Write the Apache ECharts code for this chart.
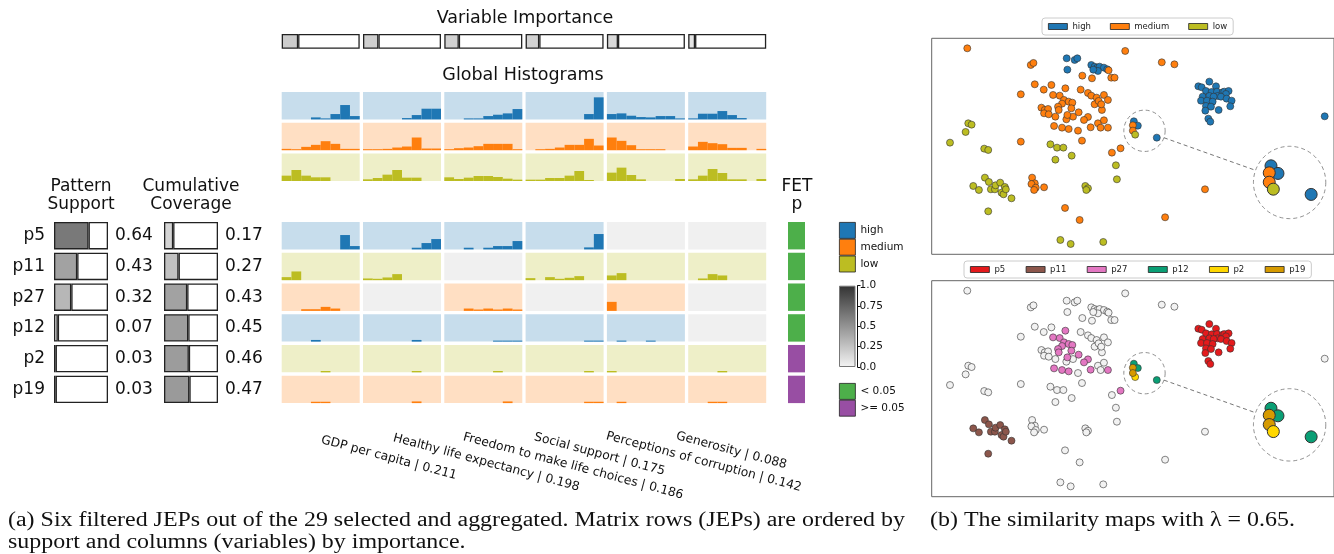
<!DOCTYPE html>
<html><head><meta charset="utf-8">
<script src="https://cdn.jsdelivr.net/npm/echarts@6/dist/echarts.min.js"></script>
<style>html,body{margin:0;padding:0;background:#fff}#c{width:1334px;height:554px}</style>
</head><body><div id="c"></div><script>
// ---------------- data ----------------
const patterns = ['p5','p11','p27','p12','p2','p19'];
const patternClass = ['high','low','medium','high','low','medium'];
const support = [0.64,0.43,0.32,0.07,0.03,0.03];
const coverage = [0.17,0.27,0.43,0.45,0.46,0.47];
const fetSignificant = [true,true,true,true,false,false]; // p < 0.05
const variables = ['GDP per capita','Healthy life expectancy','Freedom to make life choices','Social support','Perceptions of corruption','Generosity'];
const importance = [0.211,0.198,0.186,0.175,0.142,0.088];
const classes = ['high','medium','low'];
const bins = ['b1','b2','b3','b4','b5','b6','b7','b8'];
const colorbarTicks = ['0.0','0.25','0.5','0.75','1.0'];
const fetLabels = ['< 0.05','>= 0.05'];

// global histograms (per class, per variable, 8 bins)
const histHigh = [
  [0,0,0,6,3,16,43,10],
  [0,0,0,0,4,13,32,32],
  [0,0,3,3,10,14,18,31],
  [0,0,0,0,0,0,16,66],
  [16,18,11,7,6,10,10,3],
  [3,17,17,25,13,4,0,0]
];
const histMedium = [
  [4,3,10,16,27,19,4,4],
  [3,3,4,8,11,38,5,5],
  [3,6,8,12,19,19,19,3],
  [0,3,4,8,16,16,34,14],
  [38,28,15,3,3,3,0,0],
  [11,25,21,18,7,7,0,4]
];
const histLow = [
  [16,33,16,11,11,0,0,0],
  [5,9,19,33,10,10,0,0],
  [11,6,10,15,15,12,7,4],
  [4,4,9,9,16,30,3,0],
  [25,40,18,5,0,0,0,6],
  [5,16,36,24,5,5,0,6]
];
// pattern histograms (null = variable not in pattern)
const histP5 = [
  [0,0,0,0,0,0,43,10],
  [0,0,0,0,0,5,19,31],
  [0,0,5,0,5,10,10,25],
  [0,0,0,0,0,0,6,46],
  null, null
];
const histP11 = [
  [9,26,0,0,0,0,0,0],
  [5,4,8,18,0,0,0,0],
  null,
  [6,0,9,4,7,12,0,0],
  [14,21,0,0,0,0,0,0],
  [0,5,18,14,0,0,0,0]
];
const histP27 = [
  [0,0,5,5,12,7,0,0],
  null,
  [0,0,7,4,7,4,7,4],
  null,
  [27,0,0,0,0,0,0,0],
  null
];
const histP12 = [
  [0,0,0,5,0,0,0,0],
  [0,0,0,0,0,5,0,0],
  [0,0,0,0,0,3,3,3],
  [0,0,0,0,0,0,3,3],
  [0,3,0,0,3,0,0,0],
  null
];
const histP2 = [
  [0,0,0,0,4,0,0,0],
  [0,0,0,0,0,4,0,0],
  [0,0,0,0,0,4,0,0],
  [0,0,0,0,0,0,4,0],
  [4,0,0,0,0,0,0,0],
  [0,0,0,4,0,0,0,0]
];
const histP19 = [
  [0,0,0,4,4,0,0,0],
  [0,0,0,0,0,5,0,0],
  [0,0,0,0,0,0,5,0],
  [0,0,0,0,0,0,4,4],
  [0,4,0,0,0,0,0,0],
  [0,0,4,4,0,0,0,0]
];
const patternHists = [histP5, histP11, histP27, histP12, histP2, histP19];

// similarity map points (shared layout coordinates)
const highRight = [[855,215],[822,229],[832,232],[875,229],[845,243],[862,246],[878,245],[895,247],[900,245],[913,243],[905,252],[880,258],[835,260],[855,258],[868,260],[890,260],[907,266],[922,272],[830,272],[848,272],[865,275],[845,288],[860,290],[918,289],[883,300],[843,302],[852,326],[858,335]];
const highOther = [[426,145],[450,150],[458,145],[428,179],[500,165],[510,170],[518,173],[525,170],[538,173],[548,178],[520,183],[506,179],[1202,319]];
const highInset = [[628,334],[640,347],[697,383]];
const mediumP27 = [[422,235],[385,255],[405,257],[418,270],[432,275],[443,278],[412,281],[400,290],[402,300],[440,295],[428,315],[462,307],[490,321],[478,330],[388,348],[412,353],[432,357],[498,352],[550,353],[588,415]];
const mediumOther = [[127,115],[602,123],[712,157],[750,163],[318,165],[326,159],[473,197],[502,205],[552,181],[560,203],[570,203],[330,223],[380,225],[357,239],[288,253],[468,239],[490,249],[500,257],[516,263],[538,255],[550,270],[510,283],[522,273],[532,300],[530,283],[350,293],[360,300],[370,297],[358,310],[372,313],[392,320],[445,320],[425,328],[460,362],[472,392],[288,395],[520,340],[538,331],[528,353],[562,428],[322,503],[330,520],[320,522],[333,533],[358,532],[328,540],[842,538],[421,594],[465,630],[722,622]];
const mediumInset = [[625,346],[625,362]];
const lowCluster = [[180,503],[192,516],[145,528],[162,540],[198,538],[210,538],[212,526],[226,518],[240,531],[230,548],[236,553],[243,538],[260,565],[190,604]];
const lowOther = [[130,340],[140,344],[122,366],[75,398],[178,416],[190,420],[377,403],[397,413],[416,413],[441,437],[392,449],[574,466],[577,508],[482,528],[490,535],[485,540],[407,690],[438,702],[536,696]];
const lowInset = [[632,374]];
const lensSmall = [660,362.5,62];
const lensBig = [1096.5,517.5,108.5];

// ---------------- styles / layout ----------------
const FONT = 'DejaVu Sans';
const CLASS_COLOR = {high:'#1f77b4', medium:'#ff7f0e', low:'#bcbd22'};
const CLASS_BG = {high:'#c7ddec', medium:'#ffdfc3', low:'#eeefc8'};
const EMPTY_BG = '#f0f0f0';
const PAT_COLOR = {p5:'#e41a1c', p11:'#8c564b', p27:'#e377c2', p12:'#0a9f75', p2:'#ffd700', p19:'#d69a00'};
const OTHER_COLOR = '#f2f2f2';
const COL_X0 = 281.7, COL_PITCH = 81.3, CELL_W = 78, CELL_H = 27.4;
const GH_TOP = 92, GH_PITCH = 30.8;
const M_TOP = 222, M_PITCH = 30.74;
const HIST_MAX = 82;

const grid=[], xAxis=[], yAxis=[], series=[];
function addGrid(g, xa, ya){
  const i = grid.length;
  grid.push(Object.assign({containLabel:false}, g));
  xAxis.push(Object.assign({gridIndex:i}, xa));
  yAxis.push(Object.assign({gridIndex:i}, ya));
  return i;
}
function grayFor(v){ const c = Math.round(245 - v*194); return `rgb(${c},${c},${c})`; }

function histCell(left, top, bg, data, color, name){
  const gi = addGrid({left, top, width:CELL_W, height:CELL_H, show:true, backgroundColor:bg, borderWidth:0},
    {type:'category', data:bins, show:false},
    {type:'value', min:0, max:HIST_MAX, show:false});
  if (data) series.push({type:'bar', name, xAxisIndex:gi, yAxisIndex:gi, data, barCategoryGap:'0%',
    itemStyle:{color}, silent:true});
}

// global histograms
const globalHists = {high:histHigh, medium:histMedium, low:histLow};
classes.forEach((cls, r) => {
  for (let c = 0; c < 6; c++) histCell(COL_X0 + c*COL_PITCH, GH_TOP + r*GH_PITCH, CLASS_BG[cls], globalHists[cls][c], CLASS_COLOR[cls], cls);
});
// pattern matrix
patterns.forEach((p, r) => {
  const cls = patternClass[r];
  for (let c = 0; c < 6; c++) {
    const d = patternHists[r][c];
    histCell(COL_X0 + c*COL_PITCH, M_TOP + r*M_PITCH, d ? CLASS_BG[cls] : EMPTY_BG, d, CLASS_COLOR[cls], cls);
  }
});

// variable importance boxes
importance.forEach((v, i) => {
  const gi = addGrid({left: COL_X0 + i*COL_PITCH, top:34, width:CELL_W, height:14.7},
    {type:'value', min:0, max:1, show:false},
    {type:'category', data:[variables[i]], show:false});
  series.push({type:'bar', stack:'imp'+i, xAxisIndex:gi, yAxisIndex:gi, data:[v], barWidth:14.7, silent:true,
    itemStyle:{color:grayFor(v), borderColor:'#222', borderWidth:1.3}});
  series.push({type:'bar', stack:'imp'+i, xAxisIndex:gi, yAxisIndex:gi, data:[1 - v], barWidth:14.7, silent:true,
    itemStyle:{color:'#fff', borderColor:'#222', borderWidth:1.3}});
});

// support & coverage boxes
function boxBars(left, values, showRowLabels, stackName){
  const gi = addGrid({left, top: M_TOP - (M_PITCH - CELL_H)/2, width:54, height: M_PITCH*6},
    {type:'value', min:0, max:1, show:false},
    {type:'category', data:patterns, inverse:true, axisLine:{show:false}, axisTick:{show:false},
     axisLabel:{show:showRowLabels, fontSize:17, color:'#111', margin:9, fontFamily:FONT}});
  series.push({type:'bar', stack:stackName, xAxisIndex:gi, yAxisIndex:gi, barWidth:CELL_H, silent:true,
    data: values.map(v => ({value:v, itemStyle:{color:grayFor(v)}})),
    itemStyle:{borderColor:'#222', borderWidth:1.3}});
  series.push({type:'bar', stack:stackName, xAxisIndex:gi, yAxisIndex:gi, barWidth:CELL_H, silent:true,
    data: values.map(v => 1 - v),
    itemStyle:{color:'#fff', borderColor:'#222', borderWidth:1.3},
    label:{show:true, position:'right', distance:7, fontSize:17, color:'#111', fontFamily:FONT,
      formatter: (p) => values[p.dataIndex].toFixed(2)}});
}
boxBars(54, support, true, 'support');
boxBars(164, coverage, false, 'coverage');

// FET column
{
  const gi = addGrid({left:788, top: M_TOP - (M_PITCH - CELL_H)/2, width:17, height: M_PITCH*6},
    {type:'value', min:0, max:1, show:false},
    {type:'category', data:patterns, inverse:true, show:false});
  series.push({type:'bar', name:fetLabels[0], stack:'fet', xAxisIndex:gi, yAxisIndex:gi, barWidth:CELL_H, silent:true,
    data: fetSignificant.map(s => s ? 1 : '-'), itemStyle:{color:'#4daf4a'}});
  series.push({type:'bar', name:fetLabels[1], stack:'fet', xAxisIndex:gi, yAxisIndex:gi, barWidth:CELL_H, silent:true,
    data: fetSignificant.map(s => s ? '-' : 1), itemStyle:{color:'#984ea3'}});
}

// colorbar
{
  const gi = addGrid({left:839, top:285.7, width:16.5, height:81.3},
    {type:'category', data:['cb'], show:false},
    {type:'value', min:0, max:1, interval:0.25, position:'right', offset:2,
     axisLine:{show:true, lineStyle:{color:'#111', width:1}},
     axisTick:{show:true, inside:false, length:3, lineStyle:{color:'#111'}},
     splitLine:{show:false},
     axisLabel:{fontSize:10.5, color:'#111', margin:2, fontFamily:FONT,
       formatter:(v) => colorbarTicks[Math.round(v*4)]}});
  series.push({type:'bar', xAxisIndex:gi, yAxisIndex:gi, data:[1], barWidth:'100%', silent:true,
    itemStyle:{borderColor:'#777', borderWidth:1,
      color:new echarts.graphic.LinearGradient(0,0,0,1,[{offset:0,color:'#333'},{offset:1,color:'#f4f4f4'}])}});
}

// similarity maps
function scatterGrid(top){
  return addGrid({left:931.7, top, width:403.3, height:216, show:true, borderColor:'#666', borderWidth:1, backgroundColor:'#fff'},
    {type:'value', min:20, max:1230, show:false},
    {type:'value', min:85, max:733, inverse:true, show:false});
}
const mag = lensBig[2] / lensSmall[2];
function magnify(pts){ return pts.map(p => [lensBig[0] + (p[0]-lensSmall[0])*mag, lensBig[1] + (p[1]-lensSmall[1])*mag]); }
function lens(gi){
  const dx = lensBig[0]-lensSmall[0], dy = lensBig[1]-lensSmall[1], d = Math.hypot(dx,dy);
  const ux = dx/d, uy = dy/d;
  series.push({type:'line', xAxisIndex:gi, yAxisIndex:gi, silent:true, symbol:'none', z:1,
    data:[[lensSmall[0]+ux*lensSmall[2], lensSmall[1]+uy*lensSmall[2]], [lensBig[0]-ux*lensBig[2], lensBig[1]-uy*lensBig[2]]],
    lineStyle:{type:[4,3], color:'#666', width:0.9}});
  [lensSmall, lensBig].forEach(L => series.push({type:'scatter', xAxisIndex:gi, yAxisIndex:gi, silent:true, z:1,
    data:[[L[0], L[1]]], symbolSize: 2*L[2]/3,
    itemStyle:{color:'rgba(0,0,0,0)', borderColor:'#666', borderWidth:0.9, borderType:[4,3]}}));
}
function pts(gi, name, data, color, size){
  series.push({type:'scatter', name, xAxisIndex:gi, yAxisIndex:gi, data, symbolSize:size, silent:true, z:3,
    itemStyle:{color, borderColor:'#333', borderWidth: size > 8 ? 1 : 0.6, opacity:1}});
}
const g1 = scatterGrid(38.3);
lens(g1);
pts(g1, 'high', highRight.concat(highOther, highInset), CLASS_COLOR.high, 7);
pts(g1, 'medium', mediumOther.concat(mediumP27, mediumInset), CLASS_COLOR.medium, 7);
pts(g1, 'low', lowCluster.concat(lowOther, lowInset), CLASS_COLOR.low, 7);
pts(g1, '', magnify(highInset), CLASS_COLOR.high, 12);
pts(g1, '', magnify(mediumInset), CLASS_COLOR.medium, 12);
pts(g1, '', magnify(lowInset), CLASS_COLOR.low, 12);

const g2 = scatterGrid(280.7);
lens(g2);
pts(g2, '', highOther.concat(mediumOther, lowOther), OTHER_COLOR, 7);
const patternPts = {p5:highRight, p11:lowCluster, p27:mediumP27, p12:highInset, p2:lowInset, p19:mediumInset};
patterns.forEach(p => pts(g2, p, patternPts[p], PAT_COLOR[p], 7));
['p12','p19','p2'].forEach(p => pts(g2, '', magnify(patternPts[p]), PAT_COLOR[p], 12));

// ---------------- legends ----------------
const legendBase = {selectedMode:false, icon:'rect', itemStyle:{borderColor:'#222', borderWidth:0.8}};
const legend = [
  Object.assign({}, legendBase, {data:classes, left:1042, top:18, orient:'horizontal', itemWidth:19, itemHeight:6, itemGap:19,
    padding:[4,6], borderColor:'#ccc', borderWidth:1, borderRadius:3, backgroundColor:'#fff',
    textStyle:{fontSize:8.5, color:'#222', fontFamily:FONT}}),
  Object.assign({}, legendBase, {data:patterns, left:964, top:261, orient:'horizontal', itemWidth:19, itemHeight:6, itemGap:20.5,
    padding:[4,6], borderColor:'#ccc', borderWidth:1, borderRadius:3, backgroundColor:'#fff',
    textStyle:{fontSize:8.5, color:'#222', fontFamily:FONT}}),
  Object.assign({}, legendBase, {data:classes, left:839, top:222, orient:'vertical', itemWidth:16, itemHeight:16, itemGap:0, padding:0,
    textStyle:{fontSize:10.5, color:'#111', fontFamily:FONT}}),
  Object.assign({}, legendBase, {data:fetLabels, left:839, top:383, orient:'vertical', itemWidth:16, itemHeight:16, itemGap:0, padding:0,
    textStyle:{fontSize:10.5, color:'#111', fontFamily:FONT}})
];

// ---------------- texts ----------------
const rot = -15 * Math.PI / 180;
const labelAnchors = [[323,434],[395,432],[465,431],[536,431],[608,430],[678,430]];
const texts = [];
function txt(x, y, text, font, align, extra){
  texts.push(Object.assign({type:'text', x, y, silent:true,
    style:{text, font, fill:'#111', textAlign:align || 'center', textVerticalAlign:'middle'}}, extra || {}));
}
txt(525, 18.5, 'Variable Importance', `17.5px "${FONT}"`);
txt(523, 75, 'Global Histograms', `17.5px "${FONT}"`);
txt(81, 187, 'Pattern', `17px "${FONT}"`);
txt(81, 205, 'Support', `17px "${FONT}"`);
txt(191, 187, 'Cumulative', `17px "${FONT}"`);
txt(191, 205, 'Coverage', `17px "${FONT}"`);
txt(797, 187, 'FET', `17px "${FONT}"`);
txt(797, 205, 'p', `17px "${FONT}"`);
variables.forEach((v, i) => {
  texts.push({type:'text', x:labelAnchors[i][0], y:labelAnchors[i][1], rotation:rot, silent:true,
    style:{text:`${v} | ${importance[i].toFixed(3)}`, font:`12.3px "${FONT}"`, fill:'#111', textAlign:'left', textVerticalAlign:'top'}});
});
// captions
const capFont = '20px "Liberation Serif"';
const cap1 = '(a) Six filtered JEPs out of the 29 selected and aggregated. Matrix rows (JEPs) are ordered by';
const cap2 = 'support and columns (variables) by importance.';
const cap3 = '(b) The similarity maps with \u03bb = 0.65.';
const ctx = document.createElement('canvas').getContext('2d');
ctx.font = capFont;
const sx = 897 / ctx.measureText(cap1).width;
[[8,521,cap1],[8,543,cap2],[930,521,cap3]].forEach(([x,y,t]) => {
  texts.push({type:'text', x, y, scaleX:sx, silent:true,
    style:{text:t, font:capFont, fill:'#111', textAlign:'left', textVerticalAlign:'middle'}});
});

const chart = echarts.init(document.getElementById('c'), null, {renderer:'canvas'});
chart.setOption({
  animation:false,
  textStyle:{fontFamily:FONT},
  grid, xAxis, yAxis, series, legend,
  graphic:{elements:texts}
});
</script></body></html>
